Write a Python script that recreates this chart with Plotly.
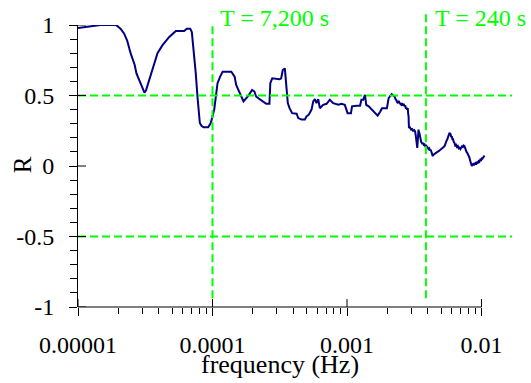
import numpy as np
import plotly.graph_objects as go

# Coherence R versus frequency (Hz)
freq_low = [1.00e-5, 1.22e-5, 1.47e-5, 1.92e-5, 2.07e-5, 2.20e-5, 2.32e-5, 2.46e-5, 2.54e-5,
            2.64e-5, 2.72e-5, 2.92e-5, 3.02e-5, 3.12e-5, 3.20e-5, 3.33e-5, 3.58e-5, 3.90e-5,
            4.25e-5, 4.77e-5, 5.34e-5, 6.16e-5, 6.44e-5, 6.83e-5, 7.02e-5, 7.22e-5, 7.51e-5,
            7.73e-5, 7.96e-5, 8.05e-5, 8.28e-5, 8.57e-5, 9.29e-5, 9.71e-5]
r_low = [0.979, 0.99, 1.0, 1.0, 0.974, 0.94, 0.89, 0.80, 0.76,
         0.716, 0.657, 0.587, 0.545, 0.521, 0.535, 0.587, 0.68, 0.80,
         0.857, 0.915, 0.958, 0.958, 0.974, 0.974, 0.95, 0.845, 0.657,
         0.493, 0.375, 0.305, 0.285, 0.275, 0.275, 0.305]

freq_mid = [1.03e-4, 1.06e-4, 1.09e-4, 1.14e-4, 1.19e-4, 1.38e-4, 1.46e-4, 1.50e-4, 1.57e-4,
            1.63e-4, 1.70e-4, 1.83e-4, 1.97e-4, 2.05e-4, 2.11e-4, 2.24e-4, 2.37e-4, 2.51e-4,
            2.65e-4, 2.69e-4, 2.78e-4, 3.15e-4, 3.24e-4, 3.33e-4, 3.45e-4, 3.53e-4, 3.63e-4,
            3.74e-4, 3.91e-4, 4.22e-4, 4.34e-4, 4.59e-4, 4.86e-4, 5.00e-4, 5.20e-4, 5.45e-4,
            5.61e-4, 5.77e-4, 5.93e-4, 6.11e-4, 6.28e-4, 6.65e-4, 7.05e-4, 7.45e-4, 7.89e-4,
            8.61e-4, 9.10e-4, 9.63e-4]
r_mid = [0.40, 0.493, 0.587, 0.634, 0.669, 0.669, 0.634, 0.575, 0.528,
         0.493, 0.458, 0.493, 0.54, 0.528, 0.493, 0.474, 0.458, 0.441,
         0.441, 0.587, 0.622, 0.615, 0.622, 0.681, 0.692, 0.587, 0.446,
         0.41, 0.375, 0.371, 0.34, 0.329, 0.329, 0.352, 0.364, 0.40,
         0.458, 0.474, 0.446, 0.474, 0.41, 0.434, 0.441, 0.47, 0.446,
         0.434, 0.441, 0.434]

freq_high = [1.01e-3, 1.07e-3, 1.09e-3, 1.18e-3, 1.25e-3, 1.28e-3, 1.32e-3, 1.36e-3, 1.39e-3,
             1.45e-3, 1.53e-3, 1.62e-3, 1.69e-3, 1.77e-3, 1.82e-3, 1.98e-3, 2.04e-3, 2.15e-3,
             2.20e-3, 2.26e-3, 2.29e-3, 2.32e-3, 2.35e-3, 2.39e-3, 2.42e-3, 2.45e-3, 2.49e-3,
             2.53e-3, 2.56e-3, 2.60e-3, 2.64e-3, 2.68e-3, 2.71e-3, 2.74e-3, 2.77e-3, 2.80e-3,
             2.83e-3, 2.85e-3, 2.87e-3, 2.88e-3, 2.89e-3, 2.93e-3, 2.97e-3, 3.00e-3, 3.05e-3,
             3.10e-3, 3.16e-3, 3.21e-3, 3.24e-3, 3.27e-3, 3.30e-3, 3.33e-3, 3.37e-3, 3.40e-3,
             3.43e-3, 3.46e-3, 3.49e-3, 3.52e-3, 3.56e-3, 3.60e-3, 3.64e-3, 3.68e-3, 3.72e-3,
             3.77e-3, 3.82e-3, 3.88e-3, 3.94e-3, 3.99e-3, 4.04e-3, 4.09e-3, 4.14e-3, 4.18e-3,
             4.26e-3, 4.30e-3, 4.34e-3, 4.40e-3, 4.47e-3, 4.54e-3, 4.61e-3, 4.70e-3, 4.80e-3,
             4.90e-3, 5.02e-3, 5.10e-3, 5.16e-3, 5.23e-3, 5.31e-3, 5.38e-3, 5.45e-3, 5.50e-3,
             5.56e-3, 5.62e-3, 5.68e-3, 5.73e-3, 5.78e-3, 5.84e-3, 5.90e-3, 5.95e-3, 6.01e-3,
             6.08e-3, 6.15e-3, 6.22e-3, 6.30e-3, 6.38e-3, 6.48e-3, 6.57e-3, 6.67e-3, 6.77e-3,
             6.87e-3, 6.97e-3, 7.07e-3, 7.17e-3, 7.27e-3, 7.37e-3, 7.47e-3, 7.56e-3, 7.65e-3,
             7.74e-3, 7.83e-3, 7.92e-3, 8.00e-3, 8.07e-3, 8.14e-3, 8.22e-3, 8.30e-3, 8.38e-3,
             8.47e-3, 8.57e-3, 8.67e-3, 8.77e-3, 8.87e-3, 8.98e-3, 9.10e-3, 9.25e-3, 9.39e-3,
             9.52e-3, 9.65e-3, 9.80e-3, 9.95e-3, 1.01e-2, 1.02e-2, 1.035e-2, 1.053e-2]
r_high = [0.375, 0.375, 0.423, 0.427, 0.427, 0.47, 0.47, 0.505, 0.434,
          0.423, 0.40, 0.375, 0.357, 0.387, 0.41, 0.41, 0.481, 0.509,
          0.50, 0.493, 0.475, 0.47, 0.455, 0.446, 0.462, 0.45, 0.44,
          0.434, 0.445, 0.43, 0.44, 0.423, 0.43, 0.405, 0.415, 0.40,
          0.41, 0.37, 0.352, 0.30, 0.27, 0.275, 0.262, 0.258, 0.262,
          0.25, 0.255, 0.246, 0.22, 0.176, 0.14, 0.129, 0.20, 0.258,
          0.24, 0.23, 0.20, 0.211, 0.17, 0.164, 0.155, 0.165, 0.15,
          0.153, 0.14, 0.145, 0.13, 0.129, 0.12, 0.125, 0.11, 0.117,
          0.095, 0.08, 0.07, 0.08, 0.085, 0.095, 0.094, 0.10, 0.105,
          0.112, 0.117, 0.12, 0.13, 0.135, 0.141, 0.16, 0.165, 0.18,
          0.188, 0.205, 0.215, 0.235, 0.235, 0.228, 0.225, 0.205, 0.211,
          0.19, 0.19, 0.17, 0.164, 0.145, 0.15, 0.135, 0.141, 0.125,
          0.13, 0.12, 0.129, 0.14, 0.135, 0.145, 0.141, 0.12, 0.115,
          0.10, 0.094, 0.085, 0.075, 0.065, 0.059, 0.04, 0.03, 0.015,
          0.0, 0.012, 0.015, 0.005, 0.019, 0.02, 0.01, 0.025, 0.023,
          0.035, 0.03, 0.045, 0.042, 0.06, 0.055, 0.07, 0.075]

freq_hz = freq_low + freq_mid + freq_high
r_values = r_low + r_mid + r_high

# Reference markers
period_freqs = [1.0e-4, 3.86e-3]
period_labels = ["T = 7,200 s", "T = 240 s"]
r_levels = [0.5, -0.5]

# Axis ticks
x_tickvals = [1e-5, 1e-4, 1e-3, 1e-2]
x_ticktext = ["0.00001", "0.0001", "0.001", "0.01"]
y_tickvals = [-1, -0.5, 0, 0.5, 1]
y_ticktext = ["-1", "-0.5", "0", "0.5", "1"]
x_minor = [m * 10.0 ** e for e in (-5, -4, -3) for m in range(2, 10)]

FONT = "Liberation Serif"
GREEN = "#00ff00"
W, H = 531, 383
ML, MR, MT, MB = 78, 19, 23, 76
PW, PH = W - ML - MR, H - MT - MB
X_RANGE = [-5, -5 + PW / 134.5]

fig = go.Figure()
fig.add_trace(go.Scatter(x=freq_hz, y=r_values, mode="lines",
                         line=dict(color="#000080", width=2), showlegend=False))

shapes = []
# dashed level lines
for lv in r_levels:
    shapes.append(dict(type="line", xref="paper", yref="y", x0=0, x1=1, y0=lv, y1=lv,
                       line=dict(color=GREEN, width=2, dash="8px,4px")))
# dashed period lines
for f, top in zip(period_freqs, [1.0, 1.04]):
    shapes.append(dict(type="line", xref="x", yref="paper", x0=f, x1=f, y0=0.031, y1=top,
                       line=dict(color=GREEN, width=2, dash="8px,4px")))
# x axis line spanning the decades
shapes.append(dict(type="line", xref="x", yref="paper", x0=1e-5, x1=1e-2, y0=0, y1=0,
                   line=dict(color="black", width=1)))
# inner halves of the major ticks
for v in x_tickvals:
    shapes.append(dict(type="line", xref="x", yref="paper", x0=v, x1=v, y0=0, y1=8 / PH,
                       line=dict(color="black", width=1)))
for v in y_tickvals:
    shapes.append(dict(type="line", xref="paper", yref="y", x0=0, x1=8 / PW, y0=v, y1=v,
                       line=dict(color="black", width=1)))

annotations = []
for f, lab, shift in zip(period_freqs, period_labels, [5, 7]):
    annotations.append(dict(text=lab, xref="x", yref="paper", x=np.log10(f), y=1.0254,
                            xanchor="left", yanchor="middle", xshift=shift, showarrow=False,
                            font=dict(family=FONT, size=24, color=GREEN)))
annotations.append(dict(text="frequency (Hz)", xref="x", yref="paper", x=-3.5, y=-0.2056,
                        xanchor="center", yanchor="middle", showarrow=False,
                        font=dict(family=FONT, size=26, color="black")))
annotations.append(dict(text="R", xref="paper", yref="paper", x=(22.3 - ML) / PW,
                        y=(H - MB - 164) / PH, xanchor="center", yanchor="middle",
                        textangle=-90, showarrow=False,
                        font=dict(family=FONT, size=25, color="black")))

fig.update_layout(
    width=W, height=H,
    margin=dict(l=ML, r=MR, t=MT, b=MB, pad=0),
    paper_bgcolor="white", plot_bgcolor="white",
    font=dict(family=FONT, size=24, color="black"),
    shapes=shapes, annotations=annotations,
    xaxis=dict(type="log", range=X_RANGE, showline=False, showgrid=False, zeroline=False,
               tickmode="array", tickvals=x_tickvals, ticktext=x_ticktext,
               ticks="outside", ticklen=8, tickcolor="black", tickwidth=1,
               ticklabelstandoff=8, tickfont=dict(family=FONT, size=24, color="black"),
               minor=dict(tickmode="array", tickvals=x_minor, ticks="outside", ticklen=6,
                          tickcolor="black", tickwidth=1, showgrid=False)),
    yaxis=dict(range=[-1, 1], showline=True, linecolor="black", linewidth=1,
               showgrid=False, zeroline=False,
               tickmode="array", tickvals=y_tickvals, ticktext=y_ticktext,
               ticks="outside", ticklen=8, tickcolor="black", tickwidth=1,
               ticklabelstandoff=10, tickfont=dict(family=FONT, size=24, color="black"),
               minor=dict(dtick=0.1, tick0=0, ticks="outside", ticklen=7,
                          tickcolor="black", tickwidth=1, showgrid=False)),
)

fig.write_html("out.html")
